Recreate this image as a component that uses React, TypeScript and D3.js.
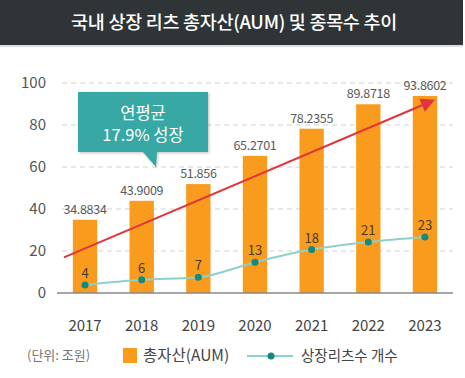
import React from "react";
import * as d3 from "d3";

const years = ["2017", "2018", "2019", "2020", "2021", "2022", "2023"];
const aum = [34.8834, 43.9009, 51.856, 65.2701, 78.2355, 89.8718, 93.8602];
const aumLabels = ["34.8834", "43.9009", "51.856", "65.2701", "78.2355", "89.8718", "93.8602"];
const counts = [4, 6, 7, 13, 18, 21, 23];
const yTicks = [0, 20, 40, 60, 80, 100];
const trend = [17, 92];

const W = 465;
const H = 378;
const FONT = "'Noto Sans CJK KR', 'Noto Sans', sans-serif";

export default function App() {
  const x = d3.scaleBand<string>().domain(years).range([57, 453]).paddingInner(0.57).paddingOuter(0.28);
  const y = d3.scaleLinear().domain([0, 100]).range([293, 83]);
  const y2 = d3.scaleLinear().domain([0, 84]).range([295, 83]);
  const cx = (d: string) => (x(d) as number) + x.bandwidth() / 2;

  const line = d3
    .line<number>()
    .x((_, i) => cx(years[i]))
    .y((d) => y2(d))
    .curve(d3.curveMonotoneX);

  const ax0 = 64;
  const ay0 = y(trend[0]);
  const ax1 = cx(years[6]) + 10;
  const ay1 = y(trend[1]);
  const ang = Math.atan2(ay1 - ay0, ax1 - ax0);
  const ah = 14;
  const aw = 7;
  const bx = ax1 - ah * Math.cos(ang);
  const by = ay1 - ah * Math.sin(ang);
  const px = -Math.sin(ang) * aw;
  const py = Math.cos(ang) * aw;

  return (
    <svg
      width={W}
      height={H}
      style={{ position: "fixed", left: 0, top: 0, background: "#fff" }}
      fontFamily={FONT}
    >
      <rect x={0} y={0} width={W - 2} height={45} fill="#2f3536" />
      <line x1={0} x2={W - 2} y1={46} y2={46} stroke="#d0d4d4" strokeWidth={1.5} />
      <text x={234} y={29} textAnchor="middle" fill="#fff" fontSize={18.5} fontWeight={500} letterSpacing={-0.3}>
        국내 상장 리츠 총자산(AUM) 및 종목수 추이
      </text>

      {yTicks.map((t) => (
        <g key={t}>
          {t > 0 && (
            <line x1={62} x2={453} y1={y(t)} y2={y(t)} stroke="#cfd3d3" strokeDasharray="5,4" strokeWidth={1} />
          )}
          <text x={46} y={y(t) + 5} textAnchor="end" fontSize={15} fill="#555">
            {t}
          </text>
        </g>
      ))}

      {years.map((yr, i) => (
        <g key={yr}>
          <rect x={x(yr)} y={y(aum[i])} width={x.bandwidth()} height={y(0) - y(aum[i])} fill="#f99b1c" />
          <text x={cx(yr)} y={y(aum[i]) - 6} textAnchor="middle" fontSize={12.5} fill="#5a5a5a" letterSpacing={-0.3}>
            {aumLabels[i]}
          </text>
          <text x={cx(yr)} y={331} textAnchor="middle" fontSize={15} fill="#444" fontWeight={400}>
            {yr}
          </text>
        </g>
      ))}

      <line x1={57} x2={453} y1={y(0)} y2={y(0)} stroke="#888" strokeWidth={1.5} />

      <line x1={ax0} y1={ay0} x2={bx} y2={by} stroke="#e2333f" strokeWidth={2} />
      <polygon
        points={`${ax1},${ay1} ${bx + px},${by + py} ${bx - px},${by - py}`}
        fill="#e2333f"
      />

      <path d={line(counts) || ""} fill="none" stroke="#8ed0cc" strokeWidth={2} />
      {counts.map((c, i) => (
        <g key={i}>
          <circle cx={cx(years[i])} cy={y2(c)} r={3.5} fill="#16897f" />
          <text x={cx(years[i])} y={y2(c) - 7} textAnchor="middle" fontSize={13} fill="#4a3a2c">
            {c}
          </text>
        </g>
      ))}

      <g>
        <path
          d="M78,92 H208 V152 H157 L156,167 L143,152 H78 Z"
          fill="#38a8a4"
          style={{ filter: "drop-shadow(1px 1px 1.5px rgba(0,0,0,0.25))" }}
        />
        <text x={143} y={119} textAnchor="middle" fill="#fff" fontSize={16.5} fontWeight={400}>
          연평균
        </text>
        <text x={143} y={141} textAnchor="middle" fill="#fff" fontSize={16.5} fontWeight={400}>
          17.9% 성장
        </text>
      </g>

      <text x={27} y={360} fontSize={13} fill="#777">
        (단위: 조원)
      </text>
      <rect x={123} y={348} width={14} height={15} fill="#f99b1c" />
      <text x={143} y={361} fontSize={15.5} fill="#444">
        총자산(AUM)
      </text>
      <line x1={247} x2={293} y1={356} y2={356} stroke="#8ed0cc" strokeWidth={2} />
      <circle cx={271} cy={356} r={3.5} fill="#16897f" />
      <text x={301} y={361} fontSize={14.5} fill="#444">
        상장리츠수 개수
      </text>
    </svg>
  );
}
